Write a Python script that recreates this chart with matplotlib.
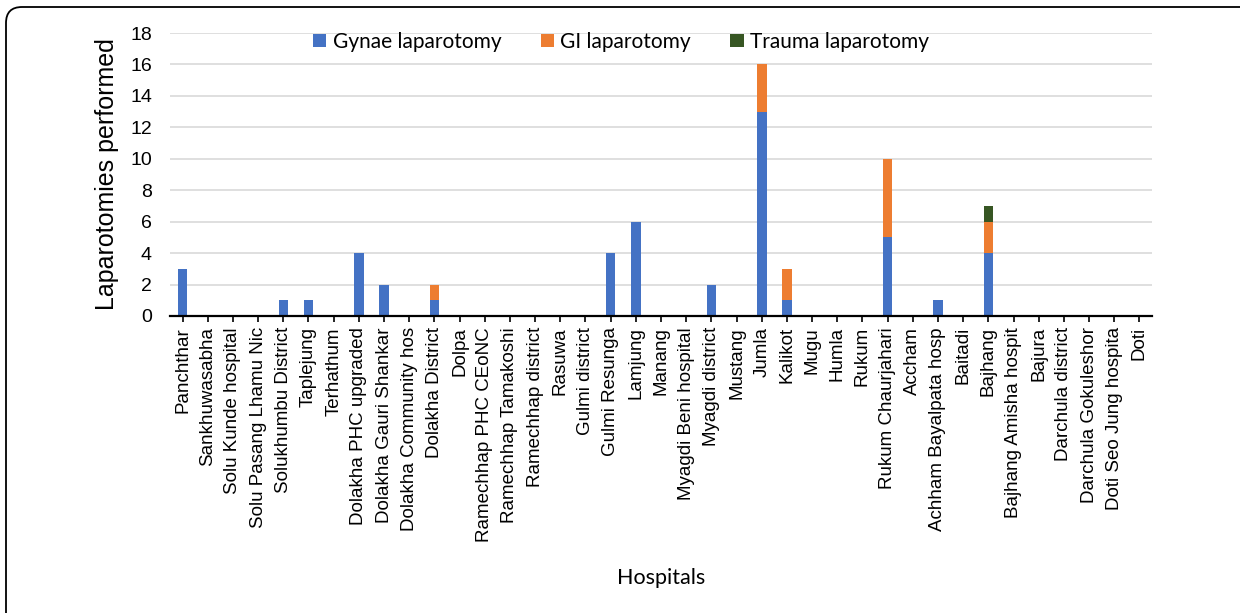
import numpy as np
import matplotlib
matplotlib.use('Agg')
import matplotlib.pyplot as plt
from matplotlib.patches import FancyBboxPatch
from matplotlib.transforms import IdentityTransform

hospitals = [
    'Panchthar', 'Sankhuwasabha', 'Solu Kunde hospital', 'Solu Pasang Lhamu Nic',
    'Solukhumbu District', 'Taplejung', 'Terhathum', 'Dolakha PHC upgraded',
    'Dolakha Gauri Shankar', 'Dolakha Community hos', 'Dolakha District', 'Dolpa',
    'Ramechhap PHC CEoNC', 'Ramechhap Tamakoshi', 'Ramechhap district', 'Rasuwa',
    'Gulmi district', 'Gulmi Resunga', 'Lamjung', 'Manang', 'Myagdi Beni hospital',
    'Myagdi district', 'Mustang', 'Jumla', 'Kalikot', 'Mugu', 'Humla', 'Rukum',
    'Rukum Chaurjahari', 'Accham', 'Achham Bayalpata hosp', 'Baitadi', 'Bajhang',
    'Bajhang Amisha hospit', 'Bajura', 'Darchula district', 'Darchula Gokuleshor',
    'Doti Seo Jung hospita', 'Doti',
]
gynae = [3, 0, 0, 0, 1, 1, 0, 4, 2, 0, 1, 0, 0, 0, 0, 0, 0, 4, 6, 0,
         0, 2, 0, 13, 1, 0, 0, 0, 5, 0, 1, 0, 4, 0, 0, 0, 0, 0, 0]
gi = [0, 0, 0, 0, 0, 0, 0, 0, 0, 0, 1, 0, 0, 0, 0, 0, 0, 0, 0, 0,
      0, 0, 0, 3, 2, 0, 0, 0, 5, 0, 0, 0, 2, 0, 0, 0, 0, 0, 0]
trauma = [0, 0, 0, 0, 0, 0, 0, 0, 0, 0, 0, 0, 0, 0, 0, 0, 0, 0, 0, 0,
          0, 0, 0, 0, 0, 0, 0, 0, 0, 0, 0, 0, 1, 0, 0, 0, 0, 0, 0]

plt.rcParams['font.family'] = ['Liberation Sans', 'DejaVu Sans']

fig = plt.figure(figsize=(12.4, 6.13), dpi=100)
ax = fig.add_axes([170 / 1240, 1 - 316 / 613, 982 / 1240, 283 / 613])

x = np.arange(len(hospitals))
gynae = np.array(gynae)
gi = np.array(gi)
trauma = np.array(trauma)
w = 0.38
ax.bar(x, gynae, w, color='#4472C4', label='Gynae laparotomy', zorder=3)
ax.bar(x, gi, w, bottom=gynae, color='#ED7D31', label='GI laparotomy', zorder=3)
ax.bar(x, trauma, w, bottom=gynae + gi, color='#375623', label='Trauma laparotomy', zorder=3)

ax.set_xlim(-0.5, len(hospitals) - 0.5)
ax.set_ylim(0, 18)
ax.set_yticks(range(0, 19, 2))
ax.set_xticks(x)
ax.set_xticklabels(hospitals)
ax.tick_params(axis='y', length=0, pad=13, labelsize=14)
ax.tick_params(axis='x', length=4, width=1.2, pad=4, labelsize=13.5, labelrotation=90)
ax.yaxis.grid(True, color='#d9d9d9', lw=1.2, zorder=0)
for s in ['top', 'right', 'left']:
    ax.spines[s].set_visible(False)
ax.spines['bottom'].set_linewidth(1.6)
ax.spines['bottom'].set_zorder(4)

ax.set_ylabel('Laparotomies performed', fontsize=18, labelpad=8)
fig.text(661 / 1240, 1 - 578 / 613, 'Hospitals', family='Lato', fontsize=15.5,
         ha='center', va='center')

fig.legend(loc='center', bbox_to_anchor=(621 / 1240, 1 - 42 / 613), ncol=3,
           frameon=False, prop={'family': 'Lato', 'size': 15},
           handlelength=0.63, handleheight=0.63, handletextpad=0.3,
           columnspacing=1.9, borderaxespad=0)

# rounded frame, in pixels; right and bottom edges run off the canvas
frame = FancyBboxPatch((6, -20), 1260, 613 - 7 + 20,
                       boxstyle='round,pad=0,rounding_size=16',
                       transform=IdentityTransform(), fill=False, ec='black', lw=1.3)
fig.patches.append(frame)

fig.savefig('out.png', dpi=100)
